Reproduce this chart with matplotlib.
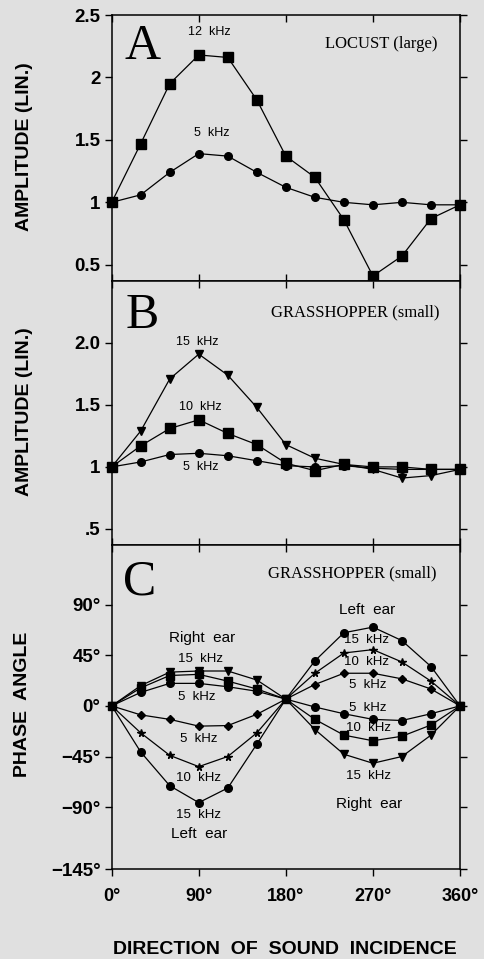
import matplotlib
matplotlib.use("Agg")
import matplotlib.pyplot as plt

# ---------------- data ----------------
angles = [0, 30, 60, 90, 120, 150, 180, 210, 240, 270, 300, 330, 360]

# Panel A: locust (large)
locust_12k = [1.0, 1.47, 1.95, 2.18, 2.16, 1.82, 1.37, 1.20, 0.86, 0.41, 0.57, 0.87, 0.98]
locust_5k = [1.0, 1.06, 1.24, 1.39, 1.37, 1.24, 1.12, 1.04, 1.00, 0.98, 1.00, 0.98, 0.98]

# Panel B: grasshopper (small) amplitude
grass_15k = [1.0, 1.29, 1.71, 1.91, 1.74, 1.48, 1.18, 1.07, 1.02, 0.98, 0.91, 0.93, 0.98]
grass_10k = [1.0, 1.17, 1.31, 1.38, 1.27, 1.18, 1.03, 0.97, 1.02, 1.00, 1.00, 0.98, 0.98]
grass_5k = [1.0, 1.04, 1.10, 1.11, 1.09, 1.05, 1.01, 1.00, 1.01, 0.99, 0.98, 0.98, 0.98]

# Panel C: phase angle (degrees)
right_15k = [0, 18, 30, 31, 31, 23, 6, -21, -43, -51, -45, -26, 0]
right_10k = [0, 16, 27, 28, 22, 15, 6, -12, -26, -31, -27, -17, 0]
right_5k = [0, 12, 20, 20, 17, 13, 6, -1, -7, -12, -13, -7, 0]
left_15k = [0, -41, -71, -86, -73, -34, 6, 40, 65, 70, 58, 35, 0]
left_10k = [0, -24, -44, -54, -45, -24, 6, 29, 47, 50, 39, 22, 0]
left_5k = [0, -8, -12, -18, -17.5, -7.5, 6, 19, 29, 29, 24, 15, 0]

x_ticks = [0, 90, 180, 270, 360]
x_ticklabels = ["0°", "90°", "180°", "270°", "360°"]
ampA_ticks = [0.5, 1, 1.5, 2, 2.5]
ampA_labels = ["0.5", "1", "1.5", "2", "2.5"]
ampB_ticks = [0.5, 1, 1.5, 2.0]
ampB_labels = [".5", "1", "1.5", "2.0"]
phase_ticks = [-145, -90, -45, 0, 45, 90]
phase_labels = ["−145°", "−90°", "−45°", "0°", "45°", "90°"]

# ---------------- style ----------------
BG = "#e0e0e0"
SANS = ["Liberation Sans", "DejaVu Sans"]
SERIF = ["Liberation Serif", "DejaVu Serif"]
plt.rcParams["font.family"] = SANS

W, H = 484, 959
fig = plt.figure(figsize=(W / 100, H / 100), dpi=100, facecolor=BG)

left = 111.7 / W
right = 460 / W
def fy(p):
    return 1 - p / H

axA = fig.add_axes([left, fy(281), right - left, fy(15) - fy(281)])
axB = fig.add_axes([left, fy(545), right - left, fy(281) - fy(545)])
axC = fig.add_axes([left, fy(869), right - left, fy(545) - fy(869)])

LW = 0.9
def line(ax, y, marker, ms, z=3):
    ax.plot(angles, y, color="black", lw=LW, marker=marker, ms=ms,
            mfc="black", mec="black", zorder=z, clip_on=False)

for ax in (axA, axB, axC):
    ax.set_facecolor(BG)
    for s in ax.spines.values():
        s.set_linewidth(1.1)
    ax.set_xlim(0, 360)
    ax.set_xticks(x_ticks)
    ax.tick_params(axis="y", which="both", left=True, right=True, direction="out",
                   length=5, width=1, labelsize=13.5, pad=3)
    ax.tick_params(axis="x", length=5, width=1, labelsize=13, pad=9)

# ---- Panel A ----
axA.set_ylim(0.37, 2.5)
axA.set_yticks(ampA_ticks)
axA.set_yticklabels(ampA_labels, fontweight="bold")
axA.tick_params(axis="x", top=True, bottom=True, labelbottom=False, direction="in")
line(axA, locust_5k, "o", 5.5)
line(axA, locust_12k, "s", 6.5)
axA.text(32, 2.246, "A", fontsize=36, family=SERIF, ha="center", va="center")
axA.text(279, 2.268, "LOCUST (large)", fontsize=12, family=SERIF, ha="center", va="center")
axA.text(100.7, 2.36, "12  kHz", fontsize=9, ha="center", va="center")
axA.text(103, 1.553, "5  kHz", fontsize=9, ha="center", va="center")

# ---- Panel B ----
axB.set_ylim(0.37, 2.5)
axB.set_yticks(ampB_ticks)
axB.set_yticklabels(ampB_labels, fontweight="bold")
axB.tick_params(axis="x", top=True, bottom=True, labelbottom=False, direction="in")
line(axB, grass_5k, "o", 5.5)
line(axB, grass_10k, "s", 6.5)
line(axB, grass_15k, "v", 5.5)
axB.text(32, 2.22, "B", fontsize=36, family=SERIF, ha="center", va="center")
axB.text(251.5, 2.25, "GRASSHOPPER (small)", fontsize=12, family=SERIF, ha="center", va="center")
axB.text(88, 2.01, "15  kHz", fontsize=9, ha="center", va="center")
axB.text(91.5, 1.48, "10  kHz", fontsize=9, ha="center", va="center")
axB.text(92, 1.0, "5  kHz", fontsize=9, ha="center", va="center")

# ---- Panel C ----
axC.set_ylim(-145, 143)
axC.set_yticks(phase_ticks)
axC.set_yticklabels(phase_labels, fontweight="bold")
axC.set_xticklabels(x_ticklabels, fontweight="bold")
axC.tick_params(axis="x", which="both", top=True, bottom=True)
for t in axC.xaxis.get_major_ticks():
    t.tick1line.set_marker(3)  # bottom: outward (down)
    t.tick2line.set_marker(3)  # top: inward (down)
line(axC, right_15k, "v", 5.5)
line(axC, right_10k, "s", 6)
line(axC, right_5k, "o", 5.5)
line(axC, left_5k, "D", 4)
line(axC, left_10k, "*", 5.5)
line(axC, left_15k, "o", 5.5)
axC.text(29, 110, "C", fontsize=36, family=SERIF, ha="center", va="center")
axC.text(249, 117.8, "GRASSHOPPER (small)", fontsize=12, family=SERIF, ha="center", va="center")

lbl = dict(fontsize=9.5, ha="center", va="center")
ear = dict(fontsize=11, ha="center", va="center")
axC.text(93, 60, "Right  ear", **ear)
axC.text(92, 42, "15  kHz", **lbl)
axC.text(88, 8, "5  kHz", **lbl)
axC.text(90, -29, "5  kHz", **lbl)
axC.text(90, -64, "10  kHz", **lbl)
axC.text(90, -97, "15  kHz", **lbl)
axC.text(90, -113.5, "Left  ear", **ear)
axC.text(263.5, 85, "Left  ear", **ear)
axC.text(263, 58.5, "15  kHz", **lbl)
axC.text(263, 39, "10  kHz", **lbl)
axC.text(265, 18.4, "5  kHz", **lbl)
axC.text(265, -2.3, "5  kHz", **lbl)
axC.text(265, -20, "10  kHz", **lbl)
axC.text(265, -62, "15  kHz", **lbl)
axC.text(266, -87, "Right  ear", **ear)

# axis titles
fig.text(25 / W, fy(147), "AMPLITUDE (LIN.)", rotation=90, ha="center", va="center",
         fontsize=14, fontweight="bold")
fig.text(25 / W, fy(412), "AMPLITUDE (LIN.)", rotation=90, ha="center", va="center",
         fontsize=14, fontweight="bold")
fig.text(22.5 / W, fy(704), "PHASE  ANGLE", rotation=90, ha="center", va="center",
         fontsize=14, fontweight="bold")
fig.text(285 / W, fy(949), "DIRECTION  OF  SOUND  INCIDENCE", ha="center", va="center",
         fontsize=14, fontweight="bold")

fig.savefig("out.png", dpi=100, facecolor=BG)
